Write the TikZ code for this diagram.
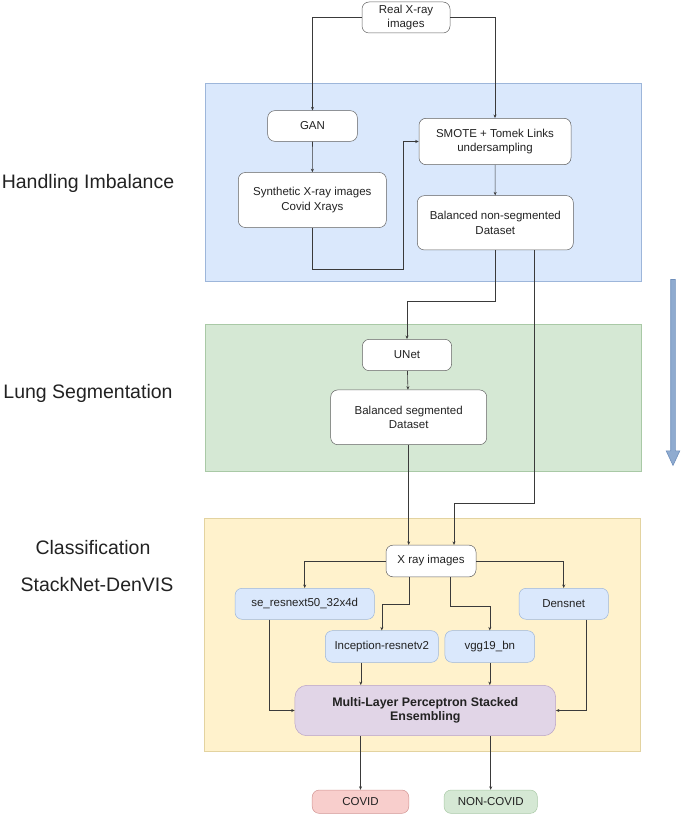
\documentclass[tikz,border=0pt]{standalone}
\usepackage{fontspec}
\setmainfont{Liberation Sans}
\usetikzlibrary{shapes.arrows,arrows.meta,calc,positioning}
\definecolor{lineGray}{HTML}{3A3A3A}
\definecolor{textGray}{HTML}{222222}
\definecolor{blueFill}{HTML}{DAE8FC}
\definecolor{blueLine}{HTML}{9DB6DA}
\definecolor{greenFill}{HTML}{D5E8D4}
\definecolor{greenLine}{HTML}{A9C9A6}
\definecolor{yellowFill}{HTML}{FFF2CC}
\definecolor{yellowLine}{HTML}{E3D3A0}
\definecolor{purpleFill}{HTML}{E1D5E7}
\definecolor{purpleLine}{HTML}{B9A3C6}
\definecolor{redFill}{HTML}{F8CECC}
\definecolor{redLine}{HTML}{D29593}
\definecolor{flowFill}{HTML}{8FABD0}
\definecolor{flowLine}{HTML}{6F8FBB}
\tikzstyle{box} = [rectangle, rounded corners=7pt, draw=lineGray!80, fill=white,
align=center, inner sep=1pt, text=textGray, line width=0.5pt,
font=\fontsize{11.5}{14.3}\selectfont]
\tikzstyle{model} = [box, fill=blueFill, draw=blueLine]
\tikzstyle{arrow} = [draw=lineGray, line width=0.6pt, -{Stealth[length=3.5pt,width=3pt]}]
\tikzstyle{stage} = [text=textGray, font=\fontsize{19.5}{23}\selectfont]
\tikzstyle{region} = [line width=0.7pt]
\tikzstyle{bigarrow} = [single arrow, draw=flowLine, fill=flowFill, line width=0.6pt,
inner sep=2pt, single arrow head extend=4.5pt, single arrow tip angle=50, rotate=-90]
\tikzset{>=stealth}

\begin{document}
\begin{tikzpicture}[x=1pt, y=-1pt]
            \useasboundingbox (0,0) rectangle (685,818);
            \filldraw[region, fill=blueFill, draw=blueLine] (205,83.3) rectangle (641.7,281.7);
            \filldraw[region, fill=greenFill, draw=greenLine] (205,324) rectangle (641.7,471.7);
            \filldraw[region, fill=yellowFill, draw=yellowLine] (204,518.3) rectangle (640,751);

            \node[stage] (imbalance) at (88,183) {Handling Imbalance};
            \node[stage] (lungseg) at (88,393) {Lung Segmentation};
            \node[stage] (classif) at (93,548) {Classification};
            \node[stage] (stacknet) at (97,585) {StackNet-DenVIS};
            \node[bigarrow, minimum height=186pt] (flow) at (673,370) {};

            \node[box, minimum width=88pt, minimum height=31pt] (real) at (406,17.5) {Real X-ray\\images};
            \node[box, minimum width=89.6pt, minimum height=30.6pt] (gan) at (312.5,126) {GAN};
            \node[box, minimum width=148pt, minimum height=55pt] (synth) at (312.3,200) {Synthetic X-ray images\\Covid Xrays};
            \node[box, minimum width=152pt, minimum height=46.4pt] (smote) at (495,141.5) {SMOTE + Tomek Links\\undersampling};
            \node[box, minimum width=156pt, minimum height=54.3pt] (balnonseg) at (495.3,222.8) {Balanced non-segmented\\Dataset};
            \node[box, minimum width=89.3pt, minimum height=31.4pt] (unet) at (407,355) {UNet};
            \node[box, minimum width=156pt, minimum height=54.7pt] (balseg) at (408.7,417.3) {Balanced segmented\\Dataset};
            \node[box, minimum width=90pt, minimum height=31.7pt] (xray) at (431,561) {X ray images};
            \node[model, minimum width=139.3pt, minimum height=31pt] (seresnext) at (304.7,603.8) {se\_resnext50\_32x4d};
            \node[model, minimum width=89.3pt, minimum height=31pt] (densnet) at (563.7,603.8) {Densnet};
            \node[model, minimum width=113pt, minimum height=31.6pt] (inception) at (381.8,646.5) {Inception-resnetv2};
            \node[model, minimum width=89.7pt, minimum height=31.6pt] (vgg) at (489.8,646.5) {vgg19\_bn};
            \node[box, fill=purpleFill, draw=purpleLine, rounded corners=12pt, minimum width=260.7pt,
            minimum height=50.4pt, font=\fontsize{12.4}{14.6}\selectfont\bfseries] (mlp) at (425.3,710.5)
            {Multi-Layer Perceptron Stacked\\Ensembling};
            \node[box, fill=redFill, draw=redLine, minimum width=96.6pt, minimum height=23.3pt] (covid) at (360.5,801.7) {COVID};
            \node[box, fill=greenFill, draw=greenLine, minimum width=93.3pt, minimum height=23.3pt] (noncovid) at (490.7,801.7) {NON-COVID};

            \draw[arrow] (real.west) -| (gan.north);
            \draw[arrow] (real.east) -| (smote.north);
            \draw[arrow] (gan) -- (synth);
            \coordinate (bend) at (403.3,269.3);
            \draw[arrow] (synth.south) |- (bend) |- (smote.west);
            \draw[arrow] (smote) -- (balnonseg);
            \draw[arrow] (balnonseg.south) -- ++(0,50.7) -| (unet.north);
            \draw[arrow] ([xshift=39pt]balnonseg.south) -- ++(0,252.7) -| ([xshift=23pt]xray.north);
            \draw[arrow] (unet) -- (balseg);
            \draw[arrow] (balseg.south) -- (balseg.south |- xray.north);
            \draw[arrow] (xray.west) -| (seresnext.north);
            \draw[arrow] (xray.east) -| (densnet.north);
            \draw[arrow] ([xshift=-22pt]xray.south) -- ++(0,27.3) -| (inception.north);
            \draw[arrow] ([xshift=19.3pt]xray.south) -- ++(0,29) -| (vgg.north);
            \draw[arrow] ([xshift=-35.4pt]seresnext.south) |- (mlp.west);
            \draw[arrow] ([xshift=23pt]densnet.south) |- (mlp.east);
            \draw[arrow] ([xshift=-21pt]inception.south) -- ([xshift=-21pt]inception.south |- mlp.north);
            \draw[arrow] (vgg.south) -- (vgg.south |- mlp.north);
            \draw[arrow] (covid.north |- mlp.south) -- (covid.north);
            \draw[arrow] (noncovid.north |- mlp.south) -- (noncovid.north);
        \end{tikzpicture}
\end{document}
